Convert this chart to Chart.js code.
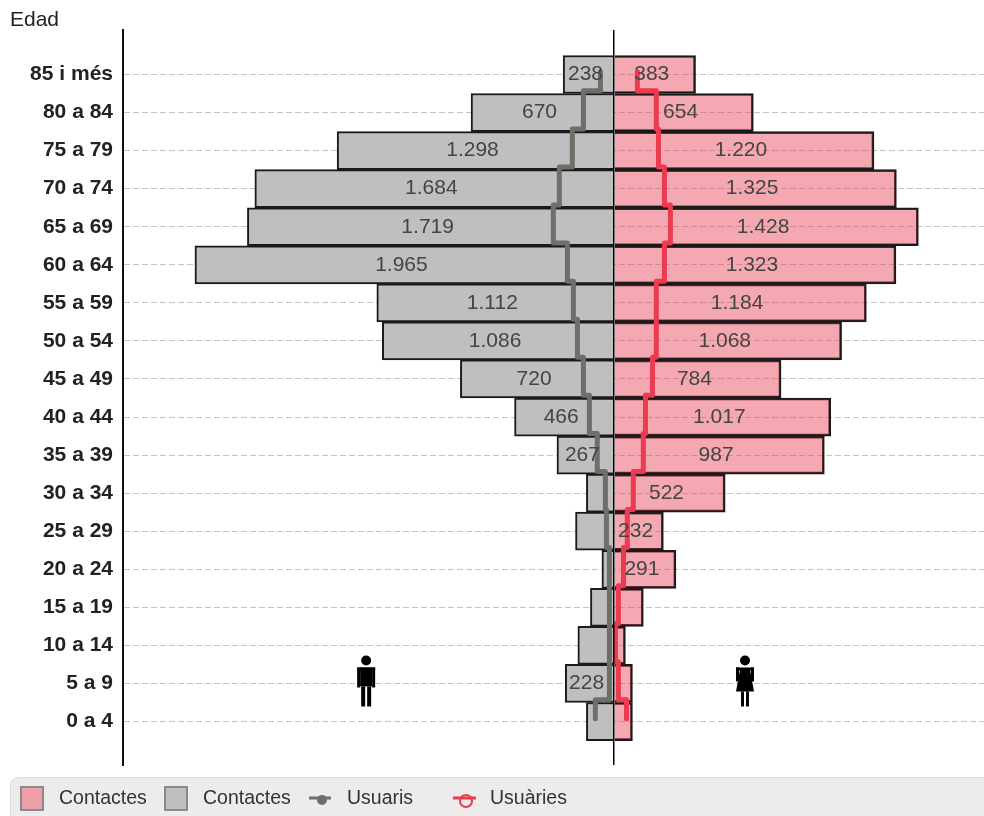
<!DOCTYPE html>
<html><head><meta charset="utf-8">
<style>html,body{margin:0;padding:0;background:#fff}#w{position:relative;width:984px;height:816px;overflow:hidden}canvas{display:block}</style>
<script src="https://cdn.jsdelivr.net/npm/chart.js@4"></script>
</head><body><div id="w"><canvas id="c" width="984" height="816"></canvas></div>
<script>
const categories = ["85 i més","80 a 84","75 a 79","70 a 74","65 a 69","60 a 64","55 a 59","50 a 54","45 a 49","40 a 44","35 a 39","30 a 34","25 a 29","20 a 24","15 a 19","10 a 14","5 a 9","0 a 4"];
const contactesHomes = [238,670,1298,1684,1719,1965,1112,1086,720,466,267,129,180,56,110,169,228,129];
const contactesDones = [383,654,1220,1325,1428,1323,1184,1068,784,1017,987,522,232,291,138,54,87,87];
const usuaris = [63,143,195,256,284,218,190,171,143,115,78,40,35,21,21,21,21,87];
const usuaries = [110,199,209,237,265,237,199,199,181,148,138,91,63,45,21,7,21,59];
const legendLabels = ["Contactes","Contactes","Usuaris","Usuàries"];
const axisTitle = "Edad";

const PINK='rgba(232,70,90,0.47)', GREY='#bfbfbf', EDGE='#1a1a1a', MEN='#6e6f68', WOMEN='#ec3a50', TEXT='#444';
const fmt = v => String(v).replace(/\B(?=(\d{3})+$)/g,'.');
const bars = (vals,sign) => vals.map((v,i)=>({x:sign*v,y:i}));
// step line that changes value on the boundary between rows
const steps = (vals,sign) => vals.flatMap((v,i)=>[
  {x:sign*v,y:i===0?0:i-0.5},
  {x:sign*v,y:i===vals.length-1?i:i+0.5}
]);
const barOpts = {type:'bar',xAxisID:'x',yAxisID:'y',barPercentage:1,categoryPercentage:1,grouped:false,borderColor:EDGE,borderSkipped:false};
const lineOpts = {type:'line',indexAxis:'y',xAxisID:'x',yAxisID:'yLine',borderWidth:5,pointRadius:0,tension:0,fill:false,borderCapStyle:'round',borderJoinStyle:'round'};

const YMIN=-1.169, YMAX=18.142, LINE_SHIFT=0.07;

const decor = {
  id:'decor',
  afterDatasetsDraw(chart){
    const {ctx,scales:{x,y}} = chart;
    ctx.save();
    ctx.font='21px "Liberation Sans"'; ctx.fillStyle=TEXT; ctx.textAlign='center'; ctx.textBaseline='middle';
    [[contactesHomes,-1],[contactesDones,1]].forEach(([vals,s])=>vals.forEach((v,i)=>{
      if(v<200) return;
      ctx.fillText(fmt(v),(x.getPixelForValue(0)+x.getPixelForValue(s*v))/2-3,y.getPixelForValue(i));
    }));
    ctx.restore();
  },
  afterDraw(chart){
    const {ctx,scales:{x,y}} = chart;
    ctx.save();
    // axis title
    ctx.font='21px "Liberation Sans"'; ctx.fillStyle='#222'; ctx.textAlign='left'; ctx.textBaseline='middle';
    ctx.fillText(axisTitle,10,20);
    // figures
    ctx.fillStyle='#000';
    const yy=y.getPixelForValue(16);
    const man=(cx)=>{ ctx.beginPath();ctx.arc(cx,yy-23,5,0,7);ctx.fill();
      ctx.fillRect(cx-9,yy-16,18,3);ctx.fillRect(cx-9,yy-16,3,20);ctx.fillRect(cx+6,yy-16,3,20);
      ctx.fillRect(cx-6,yy-16,12,19);ctx.fillRect(cx-5,yy+3,4,20);ctx.fillRect(cx+1,yy+3,4,20);};
    const woman=(cx)=>{ ctx.beginPath();ctx.arc(cx,yy-23,5,0,7);ctx.fill();
      ctx.fillRect(cx-9,yy-16,18,3);ctx.fillRect(cx-9,yy-16,3,14);ctx.fillRect(cx+6,yy-16,3,14);
      ctx.beginPath();ctx.moveTo(cx-5,yy-14);ctx.lineTo(cx+5,yy-14);ctx.lineTo(cx+9,yy+8);ctx.lineTo(cx-9,yy+8);ctx.closePath();ctx.fill();
      ctx.fillRect(cx-4,yy+8,3,15);ctx.fillRect(cx+1,yy+8,3,15);};
    man(x.getPixelForValue(-1162)); woman(x.getPixelForValue(615));
    // legend panel
    ctx.fillStyle='#ececec'; ctx.strokeStyle='#dcdcdc'; ctx.lineWidth=1;
    ctx.beginPath();ctx.roundRect(10.5,777.5,990,60,8);ctx.fill();ctx.stroke();
    ctx.font='19.5px "Liberation Sans"'; ctx.fillStyle='#333'; ctx.textBaseline='middle'; ctx.textAlign='left';
    [59,203,347,490].forEach((tx,i)=>ctx.fillText(legendLabels[i],tx,799));
    ctx.fillStyle='#eda0a8';ctx.strokeStyle='#8a8a8a';ctx.lineWidth=2;
    ctx.fillRect(21,787,22,23);ctx.strokeRect(21,787,22,23);
    ctx.fillStyle=GREY;ctx.fillRect(165,787,22,23);ctx.strokeRect(165,787,22,23);
    ctx.strokeStyle=MEN;ctx.lineWidth=3;ctx.beginPath();ctx.moveTo(309,798);ctx.lineTo(331,798);ctx.stroke();
    ctx.fillStyle=MEN;ctx.beginPath();ctx.arc(322,800,5,0,7);ctx.fill();
    ctx.strokeStyle=WOMEN;ctx.lineWidth=2;ctx.beginPath();ctx.arc(466,801,6,0,7);ctx.stroke();
    ctx.lineWidth=3;ctx.beginPath();ctx.moveTo(453,798);ctx.lineTo(476,798);ctx.stroke();
    ctx.restore();
  }
};

new Chart(document.getElementById('c'),{
  type:'bar',
  data:{datasets:[
    {...lineOpts,label:legendLabels[2],data:steps(usuaris,-1),borderColor:MEN,order:1},
    {...lineOpts,label:legendLabels[3],data:steps(usuaries,1),borderColor:WOMEN,order:1},
    {...barOpts,label:legendLabels[1],data:bars(contactesHomes,-1),backgroundColor:GREY,borderWidth:{top:2,bottom:2,left:2,right:0},order:3},
    {...barOpts,label:legendLabels[0],data:bars(contactesDones,1),backgroundColor:PINK,borderWidth:{top:2,bottom:2,left:0,right:2},order:2}
  ]},
  plugins:[decor],
  options:{
    indexAxis:'y',responsive:false,animation:false,
    layout:{padding:{top:30,bottom:51,left:0,right:0}},
    plugins:{legend:{display:false},tooltip:{enabled:false},title:{display:false}},
    scales:{
      x:{type:'linear',min:-2302.5,max:1736,
        grid:{color:'#000',lineWidth:1.5,drawTicks:false,z:1},border:{display:false},
        ticks:{display:false},afterBuildTicks(s){s.ticks=[{value:0}];}},
      y:{type:'linear',reverse:true,offset:false,min:YMIN,max:YMAX,position:'left',
        afterFit(s){s.width=123;},
        afterBuildTicks(s){s.ticks=categories.map((_,i)=>({value:i}));},
        ticks:{autoSkip:false,padding:10,color:'#222',font:{family:'"Liberation Sans"',size:21,weight:'bold'},callback:v=>categories[v]},
        grid:{offset:false,color:'#c4c4c4',lineWidth:1,drawTicks:false,tickLength:0},
        border:{display:true,color:'#111',width:2,dash:[6,3],dashOffset:0}},
      yLine:{type:'linear',axis:'y',reverse:true,offset:false,min:YMIN+LINE_SHIFT,max:YMAX+LINE_SHIFT,display:false}
    }
  }
});
</script></body></html>
